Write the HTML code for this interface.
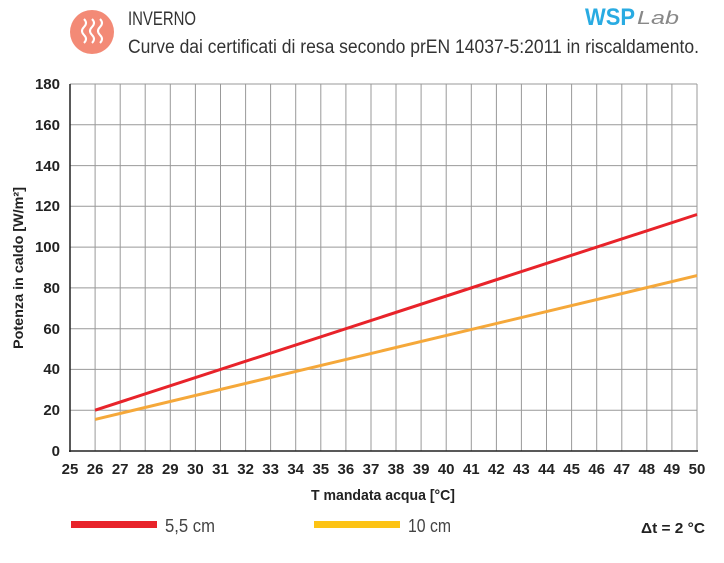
<!DOCTYPE html><html><head><style>body{margin:0;background:#fff}svg{display:block}text{font-family:"Liberation Sans",sans-serif}</style></head><body>
<svg width="724" height="563" xmlns="http://www.w3.org/2000/svg">
<circle cx="92" cy="32" r="22" fill="#f38a76"/>
<g stroke="#fff" stroke-width="2" fill="none">
<path d="M84 19 q4 4 0 8 q-4 4 0 8 q4 4 0 8"/><path d="M92 19 q4 4 0 8 q-4 4 0 8 q4 4 0 8"/><path d="M100 19 q4 4 0 8 q-4 4 0 8 q4 4 0 8"/></g>
<text x="128" y="25" font-size="19" fill="#333" textLength="68" lengthAdjust="spacingAndGlyphs">INVERNO</text>
<text x="128" y="53" font-size="19" fill="#333" textLength="571" lengthAdjust="spacingAndGlyphs">Curve dai certificati di resa secondo prEN 14037-5:2011 in riscaldamento.</text>
<text x="585" y="25" font-size="24" font-weight="bold" fill="#29abe2" textLength="50" lengthAdjust="spacingAndGlyphs">WSP</text>
<text x="637" y="24" font-size="18" font-style="italic" fill="#888" textLength="42" lengthAdjust="spacingAndGlyphs">Lab</text>
<g stroke="#999" stroke-width="1">
<line x1="95.1" y1="84" x2="95.1" y2="451"/><line x1="120.2" y1="84" x2="120.2" y2="451"/><line x1="145.2" y1="84" x2="145.2" y2="451"/><line x1="170.3" y1="84" x2="170.3" y2="451"/><line x1="195.4" y1="84" x2="195.4" y2="451"/><line x1="220.5" y1="84" x2="220.5" y2="451"/><line x1="245.6" y1="84" x2="245.6" y2="451"/><line x1="270.6" y1="84" x2="270.6" y2="451"/><line x1="295.7" y1="84" x2="295.7" y2="451"/><line x1="320.8" y1="84" x2="320.8" y2="451"/><line x1="345.9" y1="84" x2="345.9" y2="451"/><line x1="371" y1="84" x2="371" y2="451"/><line x1="396" y1="84" x2="396" y2="451"/><line x1="421.1" y1="84" x2="421.1" y2="451"/><line x1="446.2" y1="84" x2="446.2" y2="451"/><line x1="471.3" y1="84" x2="471.3" y2="451"/><line x1="496.4" y1="84" x2="496.4" y2="451"/><line x1="521.4" y1="84" x2="521.4" y2="451"/><line x1="546.5" y1="84" x2="546.5" y2="451"/><line x1="571.6" y1="84" x2="571.6" y2="451"/><line x1="596.7" y1="84" x2="596.7" y2="451"/><line x1="621.8" y1="84" x2="621.8" y2="451"/><line x1="646.8" y1="84" x2="646.8" y2="451"/><line x1="671.9" y1="84" x2="671.9" y2="451"/><line x1="697" y1="84" x2="697" y2="451"/>
<line x1="70" y1="84" x2="697" y2="84"/><line x1="70" y1="124.8" x2="697" y2="124.8"/><line x1="70" y1="165.6" x2="697" y2="165.6"/><line x1="70" y1="206.3" x2="697" y2="206.3"/><line x1="70" y1="247.1" x2="697" y2="247.1"/><line x1="70" y1="287.9" x2="697" y2="287.9"/><line x1="70" y1="328.7" x2="697" y2="328.7"/><line x1="70" y1="369.4" x2="697" y2="369.4"/><line x1="70" y1="410.2" x2="697" y2="410.2"/>
</g>
<line x1="70" y1="84" x2="70" y2="452" stroke="#222" stroke-width="1.5"/>
<line x1="69" y1="451" x2="698" y2="451" stroke="#222" stroke-width="1.5"/>
<line x1="95.1" y1="410.2" x2="697" y2="214.5" stroke="#e8232a" stroke-width="3"/>
<line x1="95.1" y1="419.4" x2="697" y2="275.6" stroke="#f5a83a" stroke-width="3"/>
<g font-size="15" font-weight="bold" fill="#222" text-anchor="end">
<text x="60" y="89">180</text><text x="60" y="130">160</text><text x="60" y="171">140</text><text x="60" y="211">120</text><text x="60" y="252">100</text><text x="60" y="293">80</text><text x="60" y="334">60</text><text x="60" y="374">40</text><text x="60" y="415">20</text><text x="60" y="456">0</text>
</g>
<g font-size="15" font-weight="bold" fill="#222" text-anchor="middle">
<text x="70" y="474">25</text><text x="95.1" y="474">26</text><text x="120.2" y="474">27</text><text x="145.2" y="474">28</text><text x="170.3" y="474">29</text><text x="195.4" y="474">30</text><text x="220.5" y="474">31</text><text x="245.6" y="474">32</text><text x="270.6" y="474">33</text><text x="295.7" y="474">34</text><text x="320.8" y="474">35</text><text x="345.9" y="474">36</text><text x="371" y="474">37</text><text x="396" y="474">38</text><text x="421.1" y="474">39</text><text x="446.2" y="474">40</text><text x="471.3" y="474">41</text><text x="496.4" y="474">42</text><text x="521.4" y="474">43</text><text x="546.5" y="474">44</text><text x="571.6" y="474">45</text><text x="596.7" y="474">46</text><text x="621.8" y="474">47</text><text x="646.8" y="474">48</text><text x="671.9" y="474">49</text><text x="697" y="474">50</text>
</g>
<text x="383" y="500" font-size="15" font-weight="bold" fill="#222" text-anchor="middle" textLength="144" lengthAdjust="spacingAndGlyphs">T mandata acqua [°C]</text>
<text transform="translate(23,268) rotate(-90)" font-size="14" font-weight="bold" fill="#222" text-anchor="middle" textLength="162" lengthAdjust="spacingAndGlyphs">Potenza in caldo [W/m²]</text>
<rect x="71" y="521" width="86" height="7" fill="#e8232a"/>
<text x="165" y="532" font-size="18" fill="#444" textLength="50" lengthAdjust="spacingAndGlyphs">5,5 cm</text>
<rect x="314" y="521" width="86" height="7" fill="#fdc314"/>
<text x="408" y="532" font-size="18" fill="#444" textLength="43" lengthAdjust="spacingAndGlyphs">10 cm</text>
<text x="705" y="533" font-size="15" font-weight="bold" fill="#222" text-anchor="end" textLength="64" lengthAdjust="spacingAndGlyphs">Δt = 2 °C</text>
</svg></body></html>
